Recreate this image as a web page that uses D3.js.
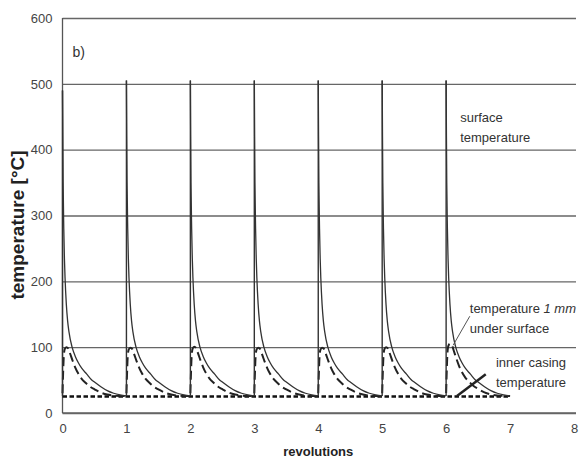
<!DOCTYPE html>
<html>
<head>
<meta charset="utf-8">
<script src="https://cdn.jsdelivr.net/npm/d3@7"></script>
<style>
  body { margin: 0; background: #fff; }
  .tick text { font-family: "Liberation Sans Narrow", "Liberation Sans", Arial, sans-serif; font-size: 13px; fill: #444; }
  .note { font-family: "Liberation Sans", Arial, sans-serif; font-size: 13px; fill: #333; }
</style>
</head>
<body>
<script>
// Values

const revolutions = [0, 1, 2, 3, 4, 5, 6];
const surfacePeak = [490, 505, 505, 505, 505, 505, 505];
const subsurfacePeak = [100, 99, 101, 99, 99, 100, 107];
const casingTemp = 25;
const casingRange = [0, 7];

// one revolution, offset from the start of the revolution
const surfaceOffset = [0.005, 0.01, 0.02, 0.03, 0.04, 0.06, 0.08, 0.1, 0.15, 0.2, 0.25, 0.3, 0.38, 0.45, 0.5, 0.6, 0.7, 0.8, 0.9, 1.0];
const surfaceCycle = [420, 350, 280, 235, 205, 165, 140, 124, 100, 86, 76, 68, 59, 51, 47, 40, 34, 30, 27.5, 26];
const baseTemp = 26;

const subOffset = [0, 0.01, 0.02, 0.035, 0.06, 0.09, 0.12, 0.16, 0.2, 0.24, 0.3, 0.36, 0.43, 0.5, 0.6, 0.7, 0.8, 0.9, 1.0];
const subCycle = [30, 62, 86, 97, 100, 98, 90, 79, 69, 61, 52, 46, 40, 36, 31, 28, 26.5, 26, 26];

const xTicks = [0, 1, 2, 3, 4, 5, 6, 7, 8];
const yTicks = [0, 100, 200, 300, 400, 500, 600];

// Set margins and dimensions
const margin = { top: 18, right: 6, bottom: 50, left: 62.5 };
const width = 580 - margin.left - margin.right;
const height = 463 - margin.top - margin.bottom;

const svg = d3.select("body").append("svg")
  .attr("width", 580)
  .attr("height", 463)
  .append("g")
  .attr("transform", `translate(${margin.left}, ${margin.top})`);

const x = d3.scaleLinear().domain([0, 8]).range([0, width]);
const y = d3.scaleLinear().domain([0, 600]).range([height, 0]);

// Y axis with horizontal grid lines
const yAxis = svg.append("g")
  .call(d3.axisLeft(y).tickValues(yTicks).tickSize(-width - 2).tickPadding(10));
yAxis.select(".domain").remove();
yAxis.selectAll(".tick line").attr("stroke", "#666").attr("stroke-width", 1.3);

// X axis
const xAxis = svg.append("g")
  .attr("transform", `translate(0, ${height})`)
  .call(d3.axisBottom(x).tickValues(xTicks).tickSize(0).tickPadding(11));
xAxis.select(".domain").remove();

svg.append("line")
  .attr("x1", 0).attr("x2", x(8) + 2)
  .attr("y1", y(0)).attr("y2", y(0))
  .attr("stroke", "#666").attr("stroke-width", 1.3);
svg.append("line")
  .attr("x1", 0).attr("x2", 0)
  .attr("y1", y(0)).attr("y2", y(600))
  .attr("stroke", "#555").attr("stroke-width", 1.3);

// Axis titles
svg.append("text")
  .attr("x", x(4)).attr("y", height + 43)
  .attr("text-anchor", "middle")
  .style("font-family", "Liberation Sans, Arial, sans-serif")
  .style("font-weight", "bold").style("font-size", "13px").style("fill", "#222")
  .text("revolutions");

svg.append("text")
  .attr("transform", `translate(${18 - margin.left + 6}, ${207}) rotate(-90)`)
  .attr("text-anchor", "middle")
  .style("font-family", "Liberation Sans, Arial, sans-serif")
  .style("font-weight", "bold").style("font-size", "19px").style("fill", "#222")
  .text("temperature [°C]");

svg.append("text")
  .attr("x", 10).attr("y", 39)
  .attr("class", "note").style("font-size", "14px")
  .text("b)");

const curve = d3.line()
  .x(d => x(d[0]))
  .y(d => y(d[1]))
  .curve(d3.curveMonotoneX);

// Inner casing temperature
svg.append("line")
  .attr("x1", x(casingRange[0])).attr("x2", x(casingRange[1]))
  .attr("y1", y(casingTemp)).attr("y2", y(casingTemp))
  .attr("stroke", "#111").attr("stroke-width", 2.6)
  .attr("stroke-dasharray", "4.5,2.5");

// Temperature 1 mm under surface
revolutions.forEach((r, i) => {
  const k = subsurfacePeak[i] / 100;
  const pts = subOffset.map((t, j) => [r + t, baseTemp + (subCycle[j] - baseTemp) * k]);
  svg.append("path")
    .attr("d", curve(pts))
    .attr("fill", "none")
    .attr("stroke", "#222").attr("stroke-width", 2)
    .attr("stroke-dasharray", "9,4.5");
});

// Surface temperature
revolutions.forEach((r, i) => {
  svg.append("line")
    .attr("x1", x(r)).attr("x2", x(r))
    .attr("y1", y(baseTemp)).attr("y2", y(surfacePeak[i]))
    .attr("stroke", "#333").attr("stroke-width", 1.4);
  const pts = [[r, surfacePeak[i]]].concat(surfaceOffset.map((t, j) => [r + t, surfaceCycle[j]]));
  svg.append("path")
    .attr("d", curve(pts))
    .attr("fill", "none")
    .attr("stroke", "#333").attr("stroke-width", 1.3);
});

// Annotations
const note = (xv, yv, lines) => {
  const t = svg.append("text").attr("class", "note").attr("x", x(xv)).attr("y", y(yv));
  lines.forEach((l, i) => {
    const ts = t.append("tspan").attr("x", x(xv)).attr("dy", i ? 20 : 0);
    l.forEach(part => ts.append("tspan").style("font-style", part.it ? "italic" : null).text(part.s));
  });
};
note(6.22, 442, [[{ s: "surface" }], [{ s: "temperature" }]]);
note(6.37, 152, [[{ s: "temperature " }, { s: "1 mm", it: true }], [{ s: "under surface" }]]);
note(6.78, 70, [[{ s: "inner casing" }], [{ s: "temperature" }]]);

svg.append("line")
  .attr("x1", x(6.37)).attr("y1", y(147))
  .attr("x2", x(6.11)).attr("y2", y(103))
  .attr("stroke", "#555").attr("stroke-width", 1);
svg.append("line")
  .attr("x1", x(6.62)).attr("y1", y(59))
  .attr("x2", x(6.17)).attr("y2", y(26))
  .attr("stroke", "#222").attr("stroke-width", 2.5);
</script>
</body>
</html>
